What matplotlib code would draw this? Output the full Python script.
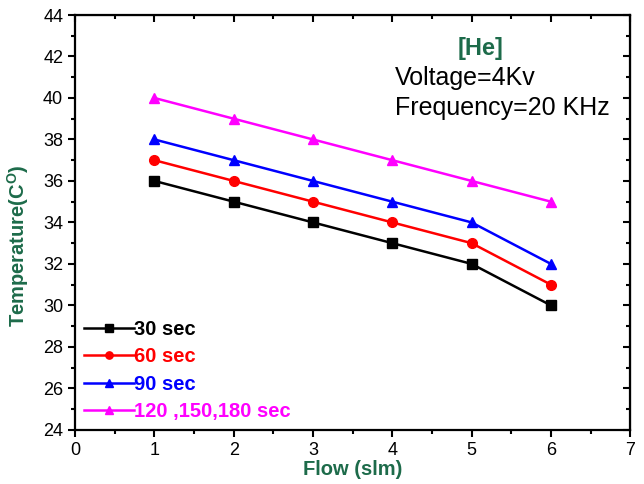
import matplotlib
matplotlib.use("Agg")
import matplotlib.pyplot as plt
from matplotlib.ticker import MultipleLocator

plt.rcParams["font.family"] = ["Liberation Sans", "DejaVu Sans"]

flow = [1, 2, 3, 4, 5, 6]
t30 = [36, 35, 34, 33, 32, 30]
t60 = [37, 36, 35, 34, 33, 31]
t90 = [38, 37, 36, 35, 34, 32]
t120 = [40, 39, 38, 37, 36, 35]

green = "#1d6b4a"

fig = plt.figure(figsize=(6.44, 4.84), dpi=100)
ax = fig.add_axes([0.1165, 0.112, 0.862, 0.857])

series = [
    (t30, "black", "s", "30 sec"),
    (t60, "red", "o", "60 sec"),
    (t90, "blue", "^", "90 sec"),
    (t120, "magenta", "^", "120 ,150,180 sec"),
]
for ys, c, m, lab in series:
    ax.plot(flow, ys, color=c, marker=m, markersize=7, linewidth=1.8, label=lab)

ax.set_xlim(0, 7)
ax.set_ylim(24, 44)
ax.xaxis.set_major_locator(MultipleLocator(1))
ax.xaxis.set_minor_locator(MultipleLocator(0.5))
ax.yaxis.set_major_locator(MultipleLocator(2))
ax.yaxis.set_minor_locator(MultipleLocator(1))
ax.tick_params(which="both", direction="out", width=1.5, labelsize=13)
ax.tick_params(which="major", length=5)
ax.tick_params(which="minor", length=3)
for sp in ax.spines.values():
    sp.set_linewidth(1.6)

# inward ticks on top and right
top = ax.secondary_xaxis("top")
top.xaxis.set_major_locator(MultipleLocator(1))
top.xaxis.set_minor_locator(MultipleLocator(0.5))
top.tick_params(which="both", direction="in", labeltop=False, width=1.5)
top.tick_params(which="major", length=5)
top.tick_params(which="minor", length=3)
right = ax.secondary_yaxis("right")
right.yaxis.set_major_locator(MultipleLocator(2))
right.yaxis.set_minor_locator(MultipleLocator(1))
right.tick_params(which="both", direction="in", labelright=False, width=1.5)
right.tick_params(which="major", length=5)
right.tick_params(which="minor", length=3)

ax.set_xlabel("Flow (slm)", fontsize=14.5, fontweight="bold", color=green, labelpad=1)
ax.set_ylabel("Temperature(C$^{\\mathregular{O}}$)", fontsize=14.5, fontweight="bold",
              color=green)
ax.yaxis.set_label_coords(-0.08, 0.443)

ax.text(0.73, 0.92, "[He]", transform=ax.transAxes, fontsize=17, fontweight="bold",
        color=green, ha="center", va="center")
ax.text(0.576, 0.848, "Voltage=4Kv", transform=ax.transAxes, fontsize=18,
        ha="left", va="center")
ax.text(0.576, 0.776, "Frequency=20 KHz", transform=ax.transAxes, fontsize=18,
        ha="left", va="center")

leg = ax.legend(loc="lower left", bbox_to_anchor=(-0.013, -0.018), frameon=False,
                handlelength=2.5, handletextpad=0.0, labelspacing=0.42,
                borderpad=0.3, markerscale=0.75, prop={"weight": "bold", "size": 14.5})
for txt, (_, c, _, _) in zip(leg.get_texts(), series):
    txt.set_color(c)

fig.savefig("out.png", dpi=100)
